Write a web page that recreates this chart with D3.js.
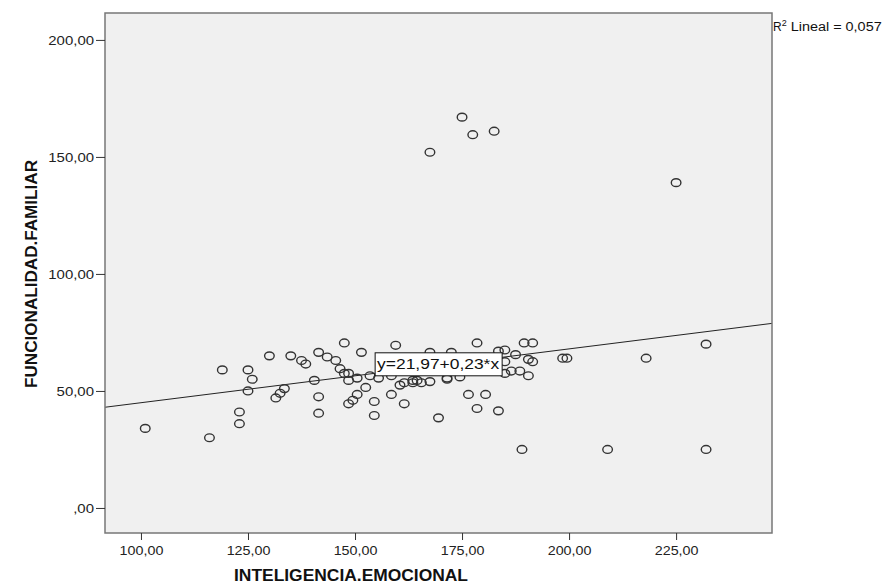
<!DOCTYPE html>
<html><head><meta charset="utf-8">
<script src="https://cdn.jsdelivr.net/npm/d3@7"></script>
<style>body{margin:0;background:#fff;} text{font-family:"Liberation Sans",Arial,sans-serif;}</style>
</head><body><svg id="c" width="894" height="587"></svg>
<script>
const xVals = [101,116,119,123,123,125,126,125,130,131.5,132.5,133.5,135,137.5,138.5,140.5,141.5,141.5,141.5,143.5,145.5,146.5,147.5,147.5,148.5,148.5,148.5,149.5,150.5,150.5,151.5,152.5,153.5,154.5,154.5,155.5,158.5,158.5,159.5,160.5,161.5,161.5,163.5,163.5,165.5,167.5,167.5,169.5,171.5,172.5,174.5,176.5,178.5,178.5,180.5,183.5,183.5,185,185,185,186.5,187.5,188.5,189.5,191.5,190.5,191.5,190.5,189,198.5,199.5,209,218,232,232,167.5,175,177.5,182.5,225,164.5,171.5];
const yVals = [34,30,59,41,36,59,55,50,65,47,49,51,65,63,61.5,54.5,66.5,47.5,40.5,64.5,63,59.5,70.5,57.5,57.5,54.5,44.5,46,48.5,55.5,66.5,51.5,56.5,45.5,39.5,55.5,48.5,56.5,69.5,52.5,53.5,44.5,54.5,53.5,53.5,54,66.5,38.5,55.5,66.5,56,48.5,70.5,42.5,48.5,41.5,67,67.5,62.5,57.5,58.5,65.5,58.5,70.5,70.5,63.5,62.5,56.5,25,64,64,25,64,70,25,152,167,159.5,161,139,54.5,55];
const xTicks = [100,125,150,175,200,225];
const yTicks = [0,50,100,150,200];
const xTickLabels = ["100,00","125,00","150,00","175,00","200,00","225,00"];
const yTickLabels = [",00","50,00","100,00","150,00","200,00"];
const fitIntercept = 21.97, fitSlope = 0.23;
const fitLabel = "y=21,97+0,23*x";
const xTitle = "INTELIGENCIA.EMOCIONAL";
const yTitle = "FUNCIONALIDAD.FAMILIAR";

const svg = d3.select("#c");
const L=105, T=13, R=772, B=533;
const x = d3.scaleLinear().domain([91.6,247.4]).range([L,R]);
const y = d3.scaleLinear().domain([-10.7,211.5]).range([B,T]);

function stretch(sel, f){
  sel.each(function(){
    const w = this.getComputedTextLength();
    d3.select(this).attr("textLength", w*f).attr("lengthAdjust","spacingAndGlyphs");
  });
}

svg.append("rect").attr("x",L).attr("y",T).attr("width",R-L).attr("height",B-T)
  .attr("fill","#f0f0f0");

const x0=x.domain()[0], x1=x.domain()[1];
svg.append("line").attr("x1",x(x0)).attr("y1",y(fitIntercept+fitSlope*x0))
  .attr("x2",x(x1)).attr("y2",y(fitIntercept+fitSlope*x1))
  .attr("stroke","#222").attr("stroke-width",1);

svg.append("g").selectAll("ellipse").data(xVals.map((v,i)=>[v,yVals[i]])).join("ellipse")
  .attr("cx",d=>x(d[0])).attr("cy",d=>y(d[1])).attr("rx",4.8).attr("ry",3.9)
  .attr("fill","none").attr("stroke","#333").attr("stroke-width",1.4);

// fit label box
const lx = x(154.7), ly = y(66.3);
svg.append("rect").attr("x",lx).attr("y",ly).attr("width",127).attr("height",23)
  .attr("fill","#fff").attr("stroke","#111").attr("stroke-width",1);
const lt = svg.append("text").attr("x",lx+2).attr("y",ly+16.5).attr("font-size",14).attr("fill","#111").text(fitLabel);
lt.attr("textLength",122).attr("lengthAdjust","spacingAndGlyphs");

svg.append("rect").attr("x",L).attr("y",T).attr("width",R-L).attr("height",B-T)
  .attr("fill","none").attr("stroke","#777").attr("stroke-width",1.5);

const xa = d3.axisBottom(x).tickValues(xTicks).tickSize(7).tickSizeOuter(0).tickFormat((d,i)=>xTickLabels[i]);
const gx = svg.append("g").attr("transform",`translate(0,${B})`).call(xa);
gx.select(".domain").remove();
gx.selectAll("line").attr("stroke","#333");
gx.selectAll("text").attr("font-size",13).attr("fill","#222").attr("dy","0.9em")
  .attr("font-family","'Liberation Sans',Arial,sans-serif").call(stretch,1.1);
const ya = d3.axisLeft(y).tickValues(yTicks).tickSize(9).tickSizeOuter(0).tickFormat((d,i)=>yTickLabels[i]);
const gy = svg.append("g").attr("transform",`translate(${L},0)`).call(ya);
gy.select(".domain").remove();
gy.selectAll("line").attr("stroke","#333");
gy.selectAll("text").attr("font-size",13).attr("fill","#222").attr("x",-11)
  .attr("font-family","'Liberation Sans',Arial,sans-serif").call(stretch,1.15);

svg.append("text").attr("x",351).attr("y",581).attr("text-anchor","middle")
  .attr("font-size",16).attr("font-weight","bold").attr("fill","#111").text(xTitle)
  .attr("textLength",234).attr("lengthAdjust","spacingAndGlyphs");
svg.append("text").attr("transform","translate(37,274) rotate(-90)").attr("text-anchor","middle")
  .attr("font-size",16).attr("font-weight","bold").attr("fill","#111").text(yTitle)
  .attr("textLength",228).attr("lengthAdjust","spacingAndGlyphs");

const rt = svg.append("text").attr("x",773).attr("y",31).attr("font-size",12).attr("fill","#111");
rt.append("tspan").text("R");
rt.append("tspan").attr("font-size",9).attr("dy",-5).text("2");
rt.append("tspan").attr("dy",5).attr("textLength",95).attr("lengthAdjust","spacingAndGlyphs").text(" Lineal = 0,057");
</script></body></html>
